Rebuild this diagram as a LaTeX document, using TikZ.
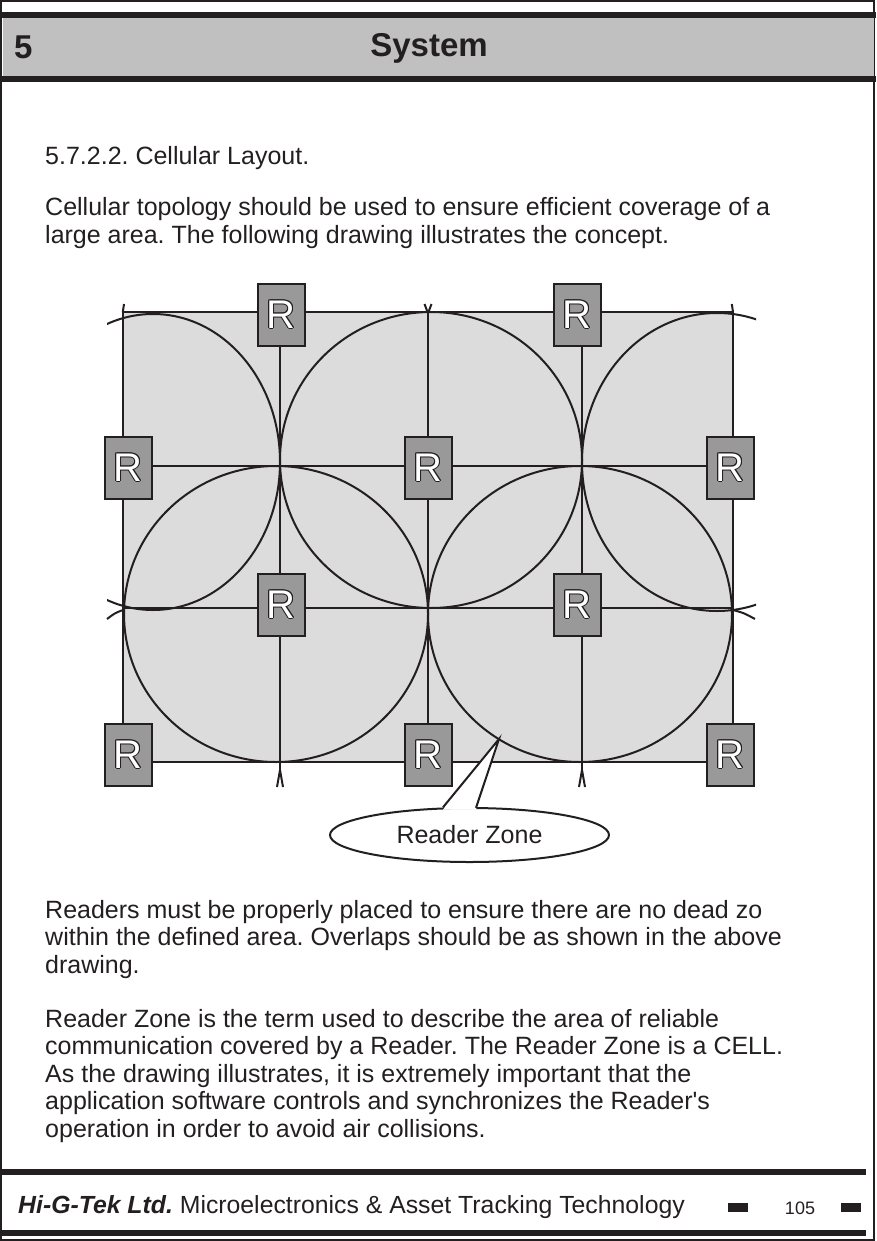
\documentclass[tikz,border=0pt]{standalone}
\usepackage{fontspec}
\setmainfont[Ligatures=TeXOff]{Liberation Sans}
\usetikzlibrary{shapes.geometric}
\definecolor{ink}{HTML}{231F20}
\definecolor{hdrgray}{HTML}{C0C0C0}
\definecolor{cellgray}{HTML}{DCDCDC}
\definecolor{boxgray}{HTML}{999999}
\newcommand\outlinedR{%
  \leavevmode
  \rlap{\color{ink}\kern-1pt R}%
  \rlap{\color{ink}\kern1pt R}%
  \rlap{\color{ink}\raisebox{1pt}{R}}%
  \rlap{\color{ink}\raisebox{-1pt}{R}}%
  \rlap{\color{ink}\kern-0.7pt\raisebox{0.7pt}{R}}%
  \rlap{\color{ink}\kern0.7pt\raisebox{0.7pt}{R}}%
  \rlap{\color{ink}\kern-0.7pt\raisebox{-0.7pt}{R}}%
  \rlap{\color{ink}\kern0.7pt\raisebox{-0.7pt}{R}}%
  {\color{white}R}}
\frenchspacing
\begin{document}
\begin{tikzpicture}[x=1pt,y=-1pt,
  gridline/.style={draw=ink, line width=2pt},
  zoneline/.style={draw=ink, line width=2pt},
  reader/.style={draw=ink, line width=2pt, fill=boxgray, minimum width=47pt,
    minimum height=62pt, inner sep=0pt, font=\fontsize{40}{40}\selectfont},
  body/.style={anchor=base west, inner sep=0pt, font=\frenchspacing\fontsize{25}{27.5}\selectfont, text=ink},
  bar/.style={fill=ink},
]
\useasboundingbox (0,0) rectangle (876,1241);
% page frame
\draw[ink, line width=1.5pt] (1,1) rectangle (874,1240);
% header
\fill[hdrgray] (3,18) rectangle (874,76);
\fill[bar] (2,12) rectangle (876,18);
\fill[bar] (2,76) rectangle (876,82);
\node[anchor=base west, inner sep=0pt, text=ink, font=\bfseries\fontsize{33}{33}\selectfont] (chap) at (14,59) {5};
\node[anchor=base, inner sep=0pt, text=ink, font=\bfseries\fontsize{33}{33}\selectfont] (title) at (429,57) {System};
% body text
\node[body] (t1) at (45,165) {5.7.2.2. Cellular Layout.};
\node[body] (t2) at (45,216) {Cellular topology should be used to ensure efficient coverage of a};
\node[body] (t3) at (45,243.5) {large area. The following drawing illustrates the concept.};
\node[body] (t4) at (45,918) {Readers must be properly placed to ensure there are no dead zo};
\node[body] (t5) at (45,945.5) {within the defined area. Overlaps should be as shown in the above};
\node[body] (t6) at (45,973) {drawing.};
\node[body] (t7) at (45,1027) {Reader Zone is the term used to describe the area of reliable};
\node[body] (t8) at (45,1054.5) {communication covered by a Reader. The Reader Zone is a CELL.};
\node[body] (t9) at (45,1082) {As the drawing illustrates, it is extremely important that the};
\node[body] (t10) at (45,1109.5) {application software controls and synchronizes the Reader's};
\node[body] (t11) at (45,1137) {operation in order to avoid air collisions.};
% diagram
\fill[cellgray] (123,312) rectangle (733,762);
\begin{scope}
  \clip (107,310) rectangle (756,764);
  \draw[zoneline] (153,462) ellipse [x radius=127pt, y radius=148pt];
  \draw[zoneline] (431,460) ellipse [x radius=151pt, y radius=148pt];
  \draw[zoneline] (717,462) ellipse [x radius=135pt, y radius=149pt];
  \draw[zoneline] (276,614) ellipse [x radius=152pt, y radius=148pt];
  \draw[zoneline] (580,614) ellipse [x radius=152pt, y radius=148pt];
\end{scope}
\draw[gridline] (123,312) rectangle (733,762);
\foreach \gx in {280,428,582} \draw[gridline] (\gx,312) -- (\gx,762);
\foreach \gy in {466,608} \draw[gridline] (123,\gy) -- (733,\gy);
% stubs outside the field
\draw[gridline] (124,304) -- (122.8,312);
\draw[gridline] (424.5,304) -- (427.5,312);
\draw[gridline] (431.5,304) -- (428.5,312);
\draw[gridline] (731.8,304) -- (733,312);
\draw[gridline] (123,610) .. controls (115,613) .. (107,619);
\draw[gridline] (733,610) .. controls (744,613) .. (755,619);
\foreach \gx in {280,582} {
  \draw[gridline] (\gx,762) -- (\gx,770);
  \draw[gridline] (\gx,770) -- (\gx-3,787);
  \draw[gridline] (\gx,770) -- (\gx+3,787);
}
% readers
\node[reader] (r1) at (281,314.5) {\outlinedR};
\node[reader] (r2) at (577,314.5) {\outlinedR};
\node[reader] (r3) at (128,467.5) {\outlinedR};
\node[reader] (r4) at (428,467.5) {\outlinedR};
\node[reader] (r5) at (730,467.5) {\outlinedR};
\node[reader] (r6) at (281,604.5) {\outlinedR};
\node[reader] (r7) at (577,604.5) {\outlinedR};
\node[reader] (r8) at (128,754.5) {\outlinedR};
\node[reader] (r9) at (428,754.5) {\outlinedR};
\node[reader] (r10) at (730,754.5) {\outlinedR};
% callout
\node[ellipse, draw=ink, line width=2pt, fill=white, minimum width=279pt, minimum height=54pt,
  inner sep=0pt, text=ink, font=\fontsize{25}{25}\selectfont] (zone) at (469.5,835) {Reader Zone};
\coordinate (tip) at (499,739);
\fill[white] (443,809.5) -- (tip) -- (476,809.5) -- cycle;
\draw[zoneline, line join=miter] (443,807.3) -- (tip) -- (476,807.8);
% footer
\fill[bar] (2,1169) rectangle (866,1175);
\fill[bar] (2,1230) rectangle (866,1236);
\node[anchor=base west, inner sep=0pt, text=ink, font=\frenchspacing\fontsize{24.8}{24.8}\selectfont] (foot) at (18,1213)
  {\textbf{\textit{Hi-G-Tek Ltd.}} Microelectronics \& Asset Tracking Technology};
\fill[bar] (728,1203) rectangle (748,1212);
\fill[bar] (841,1203) rectangle (861,1212);
\node[anchor=base, inner sep=0pt, text=ink, font=\fontsize{18}{18}\selectfont] (page) at (800,1214) {105};
\end{tikzpicture}
\end{document}
